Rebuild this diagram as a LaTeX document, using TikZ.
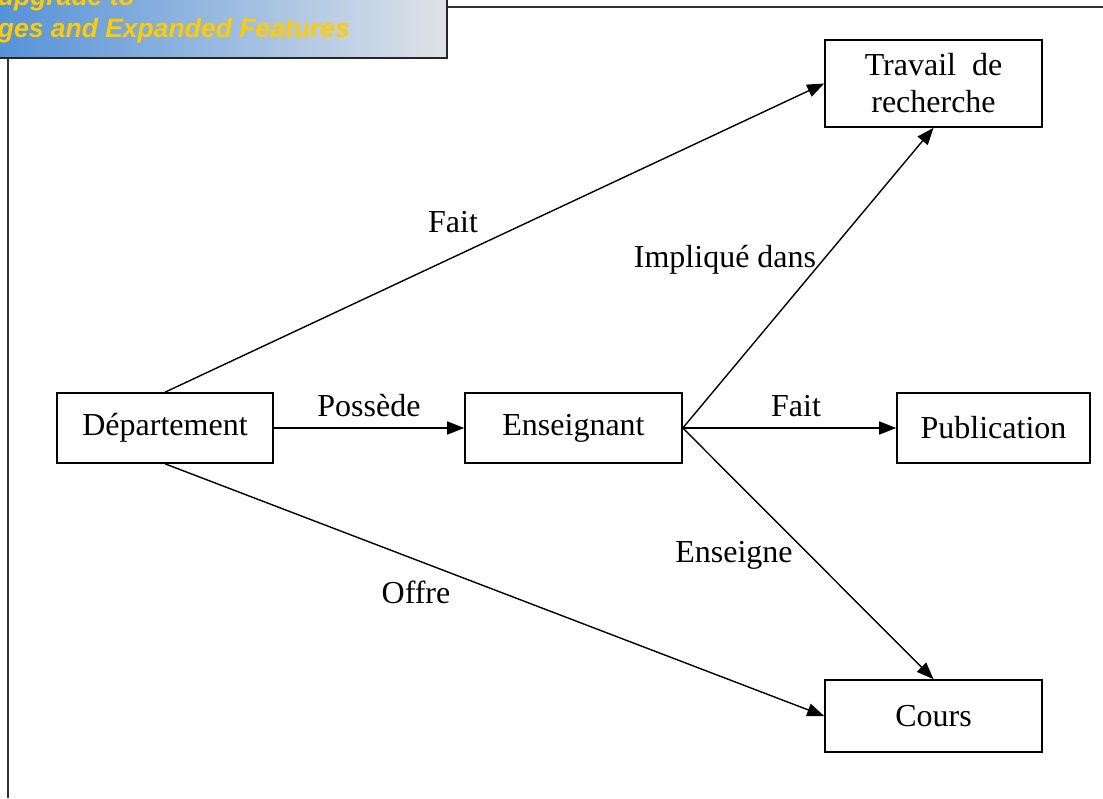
\documentclass[tikz,border=0pt]{standalone}
\usepackage{fontspec}
\setmainfont{Liberation Serif}
\newfontfamily\bannerfont{Liberation Sans}
\usetikzlibrary{arrows.meta}

\definecolor{bannerblue}{HTML}{5592D8}
\definecolor{bannermid}{HTML}{9EBEE2}
\definecolor{bannergray}{HTML}{DFE3E8}
\definecolor{banneryellow}{HTML}{FFCC00}

\tikzset{
  entity/.style={draw, line width=1.6pt, inner sep=0pt, align=center,
    font=\fontsize{32}{37}\selectfont},
  relation/.style={inner sep=0pt, font=\fontsize{32}{37}\selectfont},
  link/.style={line width=1.4pt, -{Triangle[length=17pt,width=13pt]}},
  frame/.style={line width=1.6pt, black!80},
  bannertext/.style={inner sep=0pt, text=banneryellow,
    font=\bannerfont\bfseries\itshape\fontsize{26.5}{30}\selectfont}
}

\begin{document}
\begin{tikzpicture}[x=1pt, y=-1pt]
  \useasboundingbox (0,0) rectangle (1103,798);
  \clip (0,0) rectangle (1103,798);

  % page frame
  \draw[frame] (447,7) -- (1103,7);
  \draw[frame] (8,58) -- (8,798);

  % header banner
  \shade[left color=bannerblue, middle color=bannermid, right color=bannergray]
    (-2,-2) rectangle (447,58);
  \draw[line width=2pt, black!85] (-2,58) -- (447,58) -- (447,-2);
  \node[bannertext, anchor=base east] (bannerA) at (135,5) {upgrade to};
  \node[bannertext, anchor=base east] (bannerB) at (350,37) {ges and Expanded Features};

  % entities
  \node[entity, minimum width=216pt, minimum height=70pt] (dep)   at (165,428)   {Département};
  \node[entity, minimum width=217pt, minimum height=70pt] (ens)   at (573.5,428) {Enseignant};
  \node[entity, minimum width=193pt, minimum height=70pt] (pub)   at (993.5,428) {Publication};
  \node[entity, minimum width=217pt, minimum height=87pt] (trav)  at (933.5,83.5) {Travail\ \ de\\recherche};
  \node[entity, minimum width=217pt, minimum height=72pt] (cours) at (933.5,716) {Cours};

  % relationships
  \draw[link] (dep.north) -- (trav.west);
  \draw[link] (dep.east)  -- (ens.west);
  \draw[link] (dep.south) -- (cours.west);
  \draw[link] (ens.east)  -- (trav.south);
  \draw[link] (ens.east)  -- (pub.west);
  \draw[link] (ens.east)  -- (cours.north);

  % relationship labels
  \node[relation] (lfait1)  at (453,222) {Fait};
  \node[relation] (lposs)   at (369,406) {Possède};
  \node[relation] (limpl)   at (725,260) {Impliqué dans};
  \node[relation] (lfait2)  at (796,406) {Fait};
  \node[relation] (lens)    at (734,555) {Enseigne};
  \node[relation] (loffre)  at (416,592) {Offre};
\end{tikzpicture}
\end{document}
